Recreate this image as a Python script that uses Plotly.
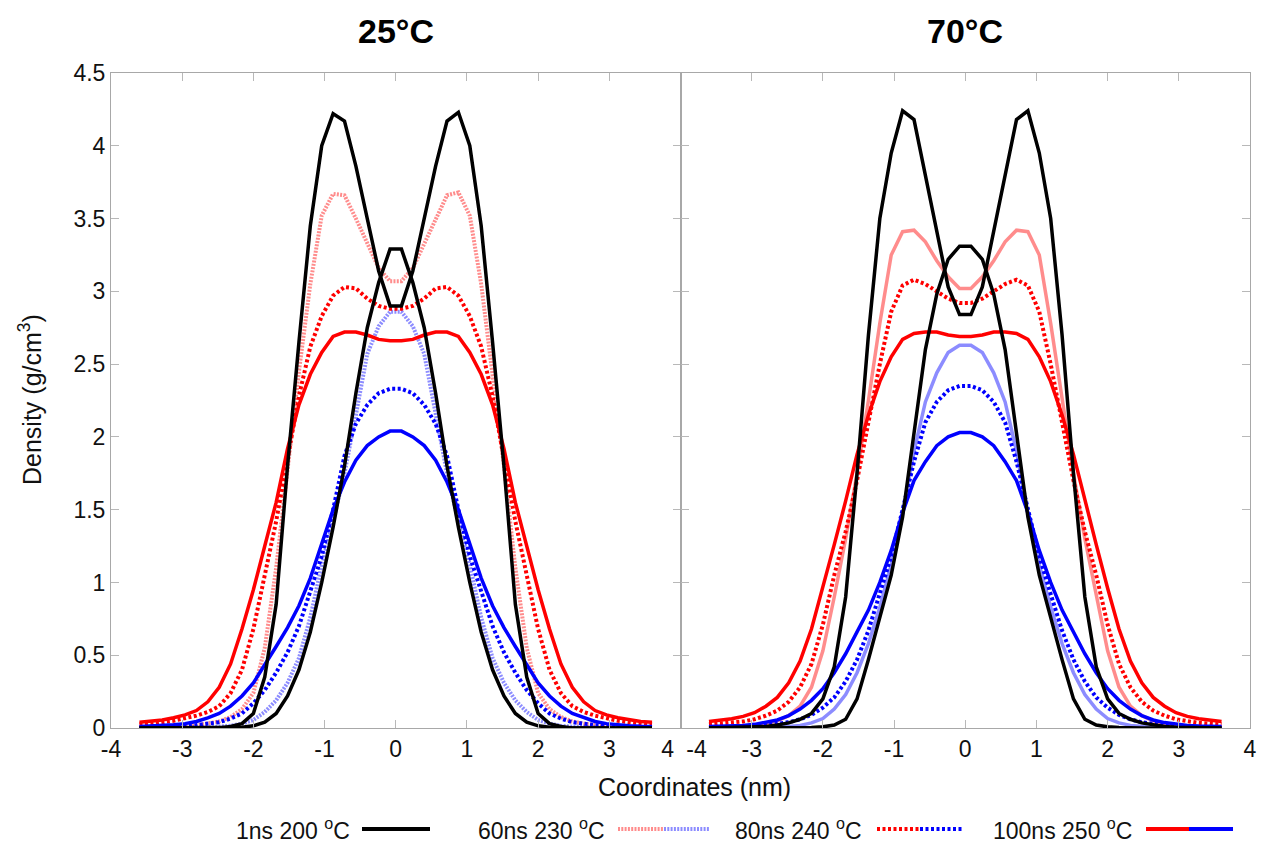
import plotly.graph_objects as go
from plotly.subplots import make_subplots

# ---------------- data ----------------
coords = [-3.60, -3.44, -3.28, -3.12, -2.96, -2.80, -2.64, -2.48, -2.32, -2.16, -2.00, -1.84,
          -1.68, -1.52, -1.36, -1.20, -1.04, -0.88, -0.72, -0.56, -0.40, -0.24, -0.08,
          0.08, 0.24, 0.40, 0.56, 0.72, 0.88, 1.04, 1.20, 1.36, 1.52, 1.68, 1.84, 2.00,
          2.16, 2.32, 2.48, 2.64, 2.80, 2.96, 3.12, 3.28, 3.44, 3.60]

# 25 °C panel
t25_1ns_a = [0.0, 0.0, 0.0, 0.0, 0.0, 0.0, 0.0, 0.0, 0.01, 0.03, 0.10, 0.35, 0.85, 1.80, 2.65, 3.45,
             4.00, 4.22, 4.17, 3.86, 3.50, 3.14, 2.90,
             2.90, 3.14, 3.50, 3.86, 4.17, 4.23, 4.00, 3.45, 2.65, 1.80, 0.85, 0.35, 0.10,
             0.03, 0.01, 0.0, 0.0, 0.0, 0.0, 0.0, 0.0, 0.0, 0.0]
t25_1ns_b = [0.0, 0.0, 0.0, 0.0, 0.0, 0.0, 0.0, 0.0, 0.0, 0.005, 0.015, 0.04, 0.10, 0.22, 0.40, 0.66,
             1.00, 1.38, 1.80, 2.30, 2.75, 3.06, 3.29,
             3.29, 3.06, 2.75, 2.30, 1.80, 1.38, 1.00, 0.66, 0.40, 0.22, 0.10, 0.04, 0.015,
             0.005, 0.0, 0.0, 0.0, 0.0, 0.0, 0.0, 0.0, 0.0, 0.0]
t25_60ns_a = [0.002, 0.003, 0.005, 0.008, 0.012, 0.02, 0.03, 0.045, 0.075, 0.13, 0.24, 0.55, 1.10,
              1.80, 2.45, 3.05, 3.52, 3.67, 3.66, 3.50, 3.33, 3.16, 3.07,
              3.07, 3.16, 3.33, 3.50, 3.66, 3.68, 3.52, 3.05, 2.45, 1.80, 1.10, 0.55, 0.24,
              0.13, 0.075, 0.045, 0.03, 0.02, 0.012, 0.008, 0.005, 0.003, 0.002]
t25_60ns_b = [0.0, 0.0, 0.001, 0.002, 0.003, 0.004, 0.006, 0.009, 0.015, 0.03, 0.055, 0.11, 0.19,
              0.31, 0.48, 0.76, 1.12, 1.42, 1.75, 2.15, 2.57, 2.76, 2.86,
              2.86, 2.76, 2.57, 2.15, 1.75, 1.42, 1.12, 0.76, 0.48, 0.31, 0.19, 0.11, 0.055,
              0.03, 0.015, 0.009, 0.006, 0.004, 0.003, 0.002, 0.001, 0.0, 0.0]
t25_80ns_a = [0.025, 0.03, 0.04, 0.05, 0.065, 0.085, 0.11, 0.15, 0.24, 0.40, 0.68, 1.05, 1.42,
              1.85, 2.28, 2.62, 2.83, 2.97, 3.03, 3.02, 2.95, 2.90, 2.88,
              2.88, 2.90, 2.95, 3.02, 3.03, 2.97, 2.83, 2.62, 2.28, 1.85, 1.42, 1.05, 0.68,
              0.40, 0.24, 0.15, 0.11, 0.085, 0.065, 0.05, 0.04, 0.03, 0.025]
t25_80ns_b = [0.004, 0.005, 0.007, 0.01, 0.014, 0.02, 0.028, 0.04, 0.065, 0.10, 0.17, 0.26, 0.38,
              0.52, 0.70, 0.93, 1.18, 1.50, 1.87, 2.09, 2.22, 2.30, 2.33,
              2.33, 2.30, 2.22, 2.09, 1.87, 1.50, 1.18, 0.93, 0.70, 0.52, 0.38, 0.26, 0.17,
              0.10, 0.065, 0.04, 0.028, 0.02, 0.014, 0.01, 0.007, 0.005, 0.004]
t25_100ns_a = [0.04, 0.045, 0.055, 0.07, 0.09, 0.12, 0.18, 0.28, 0.44, 0.68, 0.95, 1.25, 1.55,
               1.92, 2.22, 2.43, 2.58, 2.69, 2.72, 2.72, 2.70, 2.67, 2.66,
               2.66, 2.67, 2.70, 2.72, 2.72, 2.69, 2.58, 2.43, 2.22, 1.92, 1.55, 1.25, 0.95,
               0.68, 0.44, 0.28, 0.18, 0.12, 0.09, 0.07, 0.055, 0.045, 0.04]
t25_100ns_b = [0.01, 0.012, 0.016, 0.022, 0.03, 0.045, 0.07, 0.10, 0.15, 0.22, 0.31, 0.43, 0.56,
               0.69, 0.84, 1.03, 1.27, 1.50, 1.69, 1.84, 1.94, 2.00, 2.04,
               2.04, 2.00, 1.94, 1.84, 1.69, 1.50, 1.27, 1.03, 0.84, 0.69, 0.56, 0.43, 0.31,
               0.22, 0.15, 0.10, 0.07, 0.045, 0.03, 0.022, 0.016, 0.012, 0.01]

# 70 °C panel
t70_1ns_a = [0.0, 0.001, 0.002, 0.003, 0.005, 0.01, 0.02, 0.035, 0.06, 0.10, 0.20, 0.42, 0.90,
             1.75, 2.70, 3.50, 3.95, 4.24, 4.18, 3.80, 3.42, 3.03, 2.84,
             2.84, 3.03, 3.42, 3.80, 4.18, 4.24, 3.95, 3.50, 2.70, 1.75, 0.90, 0.42, 0.20,
             0.10, 0.06, 0.035, 0.02, 0.01, 0.005, 0.003, 0.002, 0.001, 0.0]
t70_1ns_b = [0.0, 0.0, 0.0, 0.0, 0.0, 0.0, 0.0, 0.0, 0.0, 0.003, 0.008, 0.02, 0.06, 0.20, 0.47,
             0.75, 1.05, 1.45, 2.02, 2.60, 2.98, 3.22, 3.31,
             3.31, 3.22, 2.98, 2.60, 2.02, 1.45, 1.05, 0.75, 0.47, 0.20, 0.06, 0.02, 0.008,
             0.003, 0.0, 0.0, 0.0, 0.0, 0.0, 0.0, 0.0, 0.0, 0.0]
t70_60ns_a = [0.003, 0.005, 0.008, 0.012, 0.02, 0.03, 0.05, 0.085, 0.15, 0.28, 0.53, 0.90, 1.30,
              1.75, 2.25, 2.78, 3.25, 3.41, 3.42, 3.34, 3.21, 3.10, 3.02,
              3.02, 3.10, 3.21, 3.34, 3.42, 3.41, 3.25, 2.78, 2.25, 1.75, 1.30, 0.90, 0.53,
              0.28, 0.15, 0.085, 0.05, 0.03, 0.02, 0.012, 0.008, 0.005, 0.003]
t70_60ns_b = [0.0, 0.0, 0.001, 0.001, 0.002, 0.003, 0.005, 0.01, 0.018, 0.035, 0.065, 0.13, 0.23,
              0.38, 0.58, 0.83, 1.12, 1.47, 1.90, 2.24, 2.44, 2.58, 2.63,
              2.63, 2.58, 2.44, 2.24, 1.90, 1.47, 1.12, 0.83, 0.58, 0.38, 0.23, 0.13, 0.065,
              0.035, 0.018, 0.01, 0.005, 0.003, 0.002, 0.001, 0.001, 0.0, 0.0]
t70_80ns_a = [0.025, 0.03, 0.035, 0.045, 0.06, 0.085, 0.12, 0.18, 0.28, 0.44, 0.71, 1.05, 1.35,
              1.70, 2.10, 2.50, 2.86, 3.04, 3.08, 3.05, 3.00, 2.95, 2.92,
              2.92, 2.95, 3.00, 3.05, 3.08, 3.04, 2.86, 2.50, 2.10, 1.70, 1.35, 1.05, 0.71,
              0.44, 0.28, 0.18, 0.12, 0.085, 0.06, 0.045, 0.035, 0.03, 0.025]
t70_80ns_b = [0.003, 0.004, 0.006, 0.008, 0.012, 0.018, 0.027, 0.04, 0.06, 0.09, 0.14, 0.21, 0.32,
              0.47, 0.67, 0.92, 1.18, 1.50, 1.83, 2.10, 2.24, 2.32, 2.35,
              2.35, 2.32, 2.24, 2.10, 1.83, 1.50, 1.18, 0.92, 0.67, 0.47, 0.32, 0.21, 0.14,
              0.09, 0.06, 0.04, 0.027, 0.018, 0.012, 0.008, 0.006, 0.004, 0.003]
t70_100ns_a = [0.045, 0.052, 0.063, 0.08, 0.105, 0.15, 0.21, 0.31, 0.46, 0.68, 0.96, 1.26, 1.56,
               1.88, 2.15, 2.38, 2.55, 2.67, 2.71, 2.72, 2.72, 2.70, 2.69,
               2.69, 2.70, 2.72, 2.72, 2.71, 2.67, 2.55, 2.38, 2.15, 1.88, 1.56, 1.26, 0.96,
               0.68, 0.46, 0.31, 0.21, 0.15, 0.105, 0.08, 0.063, 0.052, 0.045]
t70_100ns_b = [0.01, 0.011, 0.014, 0.018, 0.025, 0.037, 0.055, 0.085, 0.13, 0.19, 0.27, 0.38, 0.51,
               0.66, 0.81, 1.00, 1.22, 1.48, 1.70, 1.83, 1.94, 2.00, 2.03,
               2.03, 2.00, 1.94, 1.83, 1.70, 1.48, 1.22, 1.00, 0.81, 0.66, 0.51, 0.38, 0.27,
               0.19, 0.13, 0.085, 0.055, 0.037, 0.025, 0.018, 0.014, 0.011, 0.01]

panel_titles = ["25°C", "70°C"]
x_ticks = [-4, -3, -2, -1, 0, 1, 2, 3, 4]
y_ticks = [0, 0.5, 1, 1.5, 2, 2.5, 3, 3.5, 4, 4.5]
legend_labels = ["1ns 200 <sup>o</sup>C", "60ns 230 <sup>o</sup>C",
                 "80ns 240 <sup>o</sup>C", "100ns 250 <sup>o</sup>C"]

# ---------------- styles ----------------
BLACK = "#000000"
RED = "#ff0000"
BLUE = "#0000ff"
LRED = "rgba(255,0,0,0.45)"
LBLUE = "rgba(0,0,255,0.45)"
FINE_DOT = "2px,1.3px"
DOT = "3px,2.5px"
W = 3.5
FONT = "Liberation Sans, Arial, sans-serif"

fig = make_subplots(rows=1, cols=2, shared_yaxes=True, horizontal_spacing=0)


def add(col, y, color, dash="solid", width=W):
    fig.add_trace(go.Scatter(x=coords, y=y, mode="lines",
                             line=dict(color=color, width=width, dash=dash),
                             showlegend=False, hoverinfo="skip"), row=1, col=col)


# 25 °C
add(1, t25_60ns_a, LRED, FINE_DOT, 4)
add(1, t25_60ns_b, LBLUE, FINE_DOT, 4)
add(1, t25_80ns_a, RED, DOT, 4)
add(1, t25_80ns_b, BLUE, DOT, 4)
add(1, t25_100ns_a, RED)
add(1, t25_100ns_b, BLUE)
add(1, t25_1ns_a, BLACK)
add(1, t25_1ns_b, BLACK)
# 70 °C
add(2, t70_60ns_a, LRED)
add(2, t70_60ns_b, LBLUE)
add(2, t70_80ns_a, RED, DOT, 4)
add(2, t70_80ns_b, BLUE, DOT, 4)
add(2, t70_100ns_a, RED)
add(2, t70_100ns_b, BLUE)
add(2, t70_1ns_a, BLACK)
add(2, t70_1ns_b, BLACK)

NB = "\u00a0"
left_text = [str(v) for v in x_ticks]
left_text[-1] = "4" + NB * 4
right_text = [str(v) for v in x_ticks]
right_text[0] = NB * 5 + "-4"

axis_common = dict(showline=True, linecolor="#a8a8a8", linewidth=1, mirror="ticks",
                   ticks="inside", ticklen=8, tickcolor="#b8b8b8", tickwidth=1,
                   showgrid=False, zeroline=False, automargin=False,
                   tickfont=dict(family=FONT, size=23, color="#111"))

fig.update_xaxes(range=[-4, 4], tickvals=x_ticks, ticktext=left_text, row=1, col=1, **axis_common)
fig.update_xaxes(range=[-4, 4], tickvals=x_ticks, ticktext=right_text, row=1, col=2, **axis_common)
fig.update_yaxes(range=[0, 4.5], tickvals=y_ticks, row=1, col=1, **axis_common)
fig.update_yaxes(range=[0, 4.5], tickvals=y_ticks, showticklabels=False, row=1, col=2, **axis_common)

fig.update_layout(
    width=1272, height=849,
    margin=dict(l=111, r=22, t=73, b=121),
    paper_bgcolor="white", plot_bgcolor="white",
    font=dict(family=FONT, color="#111"),
)


def px_x(p):
    return (p - 111) / 1139.0


def px_y(p):
    return (728 - p) / 655.0


# axis titles
fig.add_annotation(text="Coordinates (nm)", xref="paper", yref="paper", x=px_x(694), y=px_y(787),
                   showarrow=False, xanchor="center", yanchor="middle",
                   font=dict(family=FONT, size=25, color="#111"))
fig.add_annotation(text="Density (g/cm<sup>3</sup>)", xref="paper", yref="paper",
                   x=px_x(30), y=px_y(400), textangle=-90,
                   showarrow=False, xanchor="center", yanchor="middle",
                   font=dict(family=FONT, size=25, color="#111"))

# panel titles
for i, t in enumerate(panel_titles):
    fig.add_annotation(text="<b>%s</b>" % t, xref="x%s domain" % ("" if i == 0 else "2"),
                       yref="paper", x=0.5, y=px_y(31), showarrow=False,
                       xanchor="center", yanchor="middle",
                       font=dict(family=FONT, size=34, color="#000"))

# manual legend (text left of the line samples)
leg_y = px_y(829)
text_ends = [352, 607, 864, 1134]
samples = [
    [(362, 430, BLACK, "solid", 4)],
    [(618, 664, LRED, FINE_DOT, 4), (664, 710, LBLUE, FINE_DOT, 4)],
    [(877, 920, RED, DOT, 4), (920, 963, BLUE, DOT, 4)],
    [(1146, 1189, RED, "solid", 4), (1189, 1233, BLUE, "solid", 4)],
]
for lab, xe, segs in zip(legend_labels, text_ends, samples):
    fig.add_annotation(text=lab, xref="paper", yref="paper", x=px_x(xe), y=px_y(829),
                       showarrow=False, xanchor="right", yanchor="middle",
                       font=dict(family=FONT, size=23, color="#111"))
    for (a, b, c, d, w) in segs:
        fig.add_shape(type="line", xref="paper", yref="paper", x0=px_x(a), x1=px_x(b),
                      y0=leg_y, y1=leg_y, line=dict(color=c, width=w, dash=d))

fig.write_html("out.html", config={"displayModeBar": False},
               post_script="document.body.style.margin='0';document.body.style.overflow='hidden';")
